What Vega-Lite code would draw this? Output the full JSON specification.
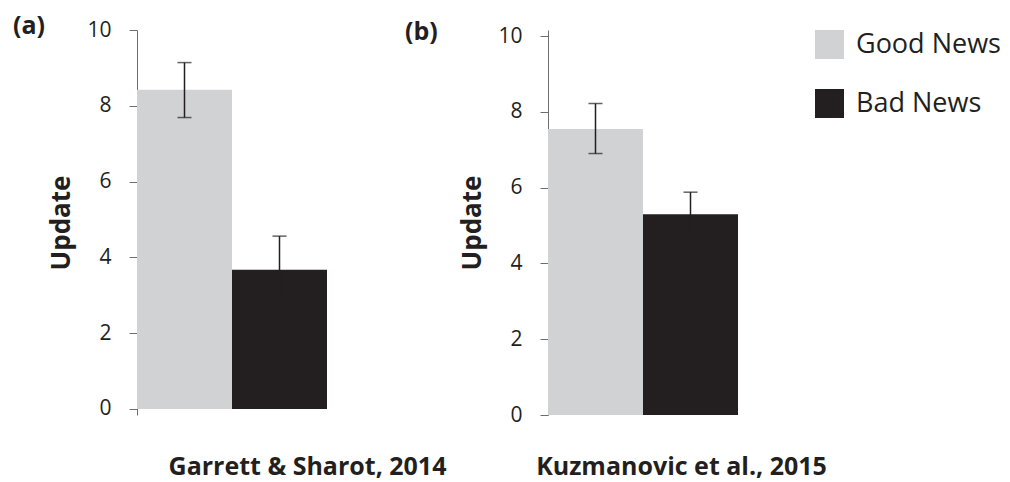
{
  "$schema": "https://vega.github.io/schema/vega-lite/v6.json",
  "padding": {"left": 12, "top": 14, "right": 0, "bottom": 14},
  "background": "white",
  "bounds": "flush",
  "spacing": 221,
  "config": {
    "font": "Open Sans",
    "view": {"stroke": null},
    "axisY": {
      "domainColor": "#6d6e71", "tickColor": "#6d6e71", "tickSize": 8, "labelPadding": 18,
      "labelFontSize": 21, "labelColor": "#231f20", "labelFont": "Open Sans",
      "titleFontSize": 26, "titleFontWeight": "bold", "titleColor": "#231f20", "titlePadding": 12,
      "grid": false
    },
    "axisX": {
      "domain": false, "ticks": false, "labels": false, "grid": false,
      "titleFontSize": 25, "titleFontWeight": "bold", "titleColor": "#231f20",
      "titleAlign": "center", "titleBaseline": "alphabetic", "titleY": 59
    },
    "title": {"fontSize": 25, "fontWeight": "bold", "color": "#231f20", "anchor": "start", "frame": "bounds"}
  },
  "resolve": {"legend": {"color": "independent"}},
  "hconcat": [
    {
      "title": {"text": "(a)", "dx": -36, "offset": -20},
      "width": 190,
      "height": 385,
      "data": {"values": [
        {"news": "Good News", "update": 8.42, "lo": 7.69, "hi": 9.14},
        {"news": "Bad News", "update": 3.67, "lo": 2.78, "hi": 4.56}
      ]},
      "layer": [
        {
          "mark": {"type": "bar"},
          "encoding": {
            "x": {"field": "news", "type": "nominal", "sort": ["Good News", "Bad News"],
                  "scale": {"paddingInner": 0, "paddingOuter": 0},
                  "axis": {"title": "Garrett & Sharot, 2014", "titleX": 170}},
            "y": {"field": "update", "type": "quantitative", "scale": {"domain": [-0.16, 10], "nice": false, "zero": false},
                  "axis": {"title": "Update", "values": [0, 2, 4, 6, 8, 10]}},
            "y2": {"datum": 0},
            "color": {"field": "news", "type": "nominal", "sort": ["Good News", "Bad News"],
                      "scale": {"domain": ["Good News", "Bad News"], "range": ["#d1d2d4", "#231f20"]}, "legend": null}
          }
        },
        {
          "mark": {"type": "rule", "color": "#231f20", "strokeWidth": 1.5},
          "encoding": {
            "x": {"field": "news", "type": "nominal", "sort": ["Good News", "Bad News"]},
            "y": {"field": "lo", "type": "quantitative"},
            "y2": {"field": "hi"}
          }
        },
        {
          "mark": {"type": "tick", "color": "#231f20", "size": 14, "thickness": 1.5},
          "encoding": {
            "x": {"field": "news", "type": "nominal", "sort": ["Good News", "Bad News"]},
            "y": {"field": "hi", "type": "quantitative"}
          }
        },
        {
          "mark": {"type": "tick", "color": "#231f20", "size": 14, "thickness": 1.5},
          "encoding": {
            "x": {"field": "news", "type": "nominal", "sort": ["Good News", "Bad News"]},
            "y": {"field": "lo", "type": "quantitative"}
          }
        }
      ]
    },
    {
      "title": {"text": "(b)", "dx": -55, "offset": -20},
      "width": 190,
      "height": 385,
      "data": {"values": [
        {"news": "Good News", "update": 7.55, "lo": 6.9, "hi": 8.22},
        {"news": "Bad News", "update": 5.3, "lo": 4.72, "hi": 5.88}
      ]},
      "layer": [
        {
          "mark": {"type": "bar"},
          "encoding": {
            "x": {"field": "news", "type": "nominal", "sort": ["Good News", "Bad News"],
                  "scale": {"paddingInner": 0, "paddingOuter": 0},
                  "axis": {"title": "Kuzmanovic et al., 2015", "titleX": 133}},
            "y": {"field": "update", "type": "quantitative", "scale": {"domain": [0, 10.16], "nice": false},
                  "axis": {"title": "Update", "values": [0, 2, 4, 6, 8, 10]}},
            "y2": {"datum": 0},
            "color": {"field": "news", "type": "nominal", "sort": ["Good News", "Bad News"],
                      "scale": {"domain": ["Good News", "Bad News"], "range": ["#d1d2d4", "#231f20"]},
                      "legend": {"title": null, "orient": "none", "legendX": 267, "legendY": 0,
                                 "symbolType": "square", "symbolSize": 840, "symbolStrokeWidth": 0, "symbolOpacity": 1,
                                 "labelFontSize": 27, "labelFont": "Open Sans", "labelColor": "#231f20",
                                 "labelOffset": 12, "rowPadding": 30, "padding": 0}}
          }
        },
        {
          "mark": {"type": "rule", "color": "#231f20", "strokeWidth": 1.5},
          "encoding": {
            "x": {"field": "news", "type": "nominal", "sort": ["Good News", "Bad News"]},
            "y": {"field": "lo", "type": "quantitative"},
            "y2": {"field": "hi"}
          }
        },
        {
          "mark": {"type": "tick", "color": "#231f20", "size": 14, "thickness": 1.5},
          "encoding": {
            "x": {"field": "news", "type": "nominal", "sort": ["Good News", "Bad News"]},
            "y": {"field": "hi", "type": "quantitative"}
          }
        },
        {
          "mark": {"type": "tick", "color": "#231f20", "size": 14, "thickness": 1.5},
          "encoding": {
            "x": {"field": "news", "type": "nominal", "sort": ["Good News", "Bad News"]},
            "y": {"field": "lo", "type": "quantitative"}
          }
        }
      ]
    }
  ]
}
